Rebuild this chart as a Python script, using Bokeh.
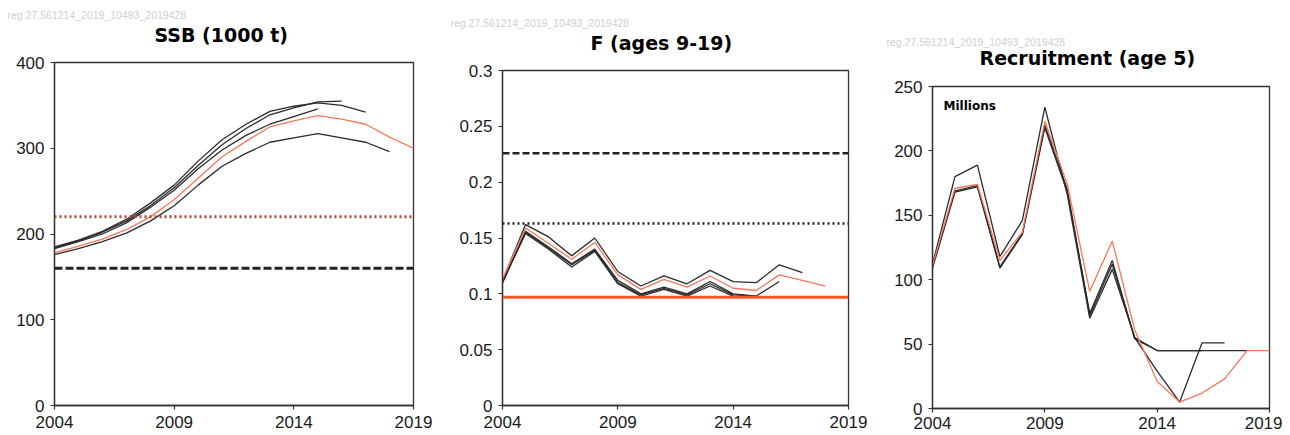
from bokeh.plotting import figure
from bokeh.layouts import row, column
from bokeh.models import FixedTicker, Title, Label, Span, Range1d
from bokeh.embed import file_html
from bokeh.resources import INLINE

# ---------------- data ----------------
YEARS = list(range(2004, 2020))
X_FIRST, X_LAST = 2004, 2019
X_TICKS = [2004, 2009, 2014, 2019]
WATERMARK = "reg.27.561214_2019_10493_2019428"

# SSB (1000 t)
ssb_latest = [178, 186, 194, 205, 220, 240, 265, 290, 308, 325, 332, 338, 334, 328, 313, 300]
ssb_retro_2018 = [176, 183, 191, 201, 215, 233, 257, 279, 294, 307, 312, 317, 312, 307, 296]
ssb_retro_2017 = [185, 193, 203, 217, 236, 257, 285, 310, 328, 343, 349, 353, 350, 342]
ssb_retro_2016 = [184, 192, 202, 215, 233, 254, 280, 304, 323, 339, 347, 354, 355]
ssb_retro_2015 = [183, 191, 200, 213, 231, 251, 276, 298, 315, 328, 337, 346]
ssb_mgt_trigger = 220
ssb_blim = 160
ssb_ticks = [0, 100, 200, 300, 400]

# F (ages 9-19)
f_latest = [0.113, 0.159, 0.145, 0.131, 0.146, 0.117, 0.104, 0.113, 0.106, 0.116, 0.105, 0.103, 0.117, 0.112, 0.107]
f_retro_2017 = [0.112, 0.162, 0.151, 0.134, 0.150, 0.120, 0.107, 0.116, 0.109, 0.121, 0.111, 0.110, 0.126, 0.119]
f_retro_2016 = [0.110, 0.156, 0.142, 0.127, 0.140, 0.112, 0.100, 0.106, 0.100, 0.111, 0.100, 0.098, 0.111]
f_retro_2015 = [0.110, 0.155, 0.141, 0.126, 0.139, 0.110, 0.099, 0.105, 0.099, 0.109, 0.099, 0.098]
f_retro_2014 = [0.111, 0.154, 0.140, 0.124, 0.138, 0.109, 0.098, 0.104, 0.098, 0.107, 0.098]
f_lim = 0.226
f_pa = 0.163
f_msy = 0.097
f_ticks = [0, 0.05, 0.1, 0.15, 0.2, 0.25, 0.3]
f_tick_labels = ["0", "0.05", "0.1", "0.15", "0.2", "0.25", "0.3"]

# Recruitment (age 5), millions
rec_latest = [111, 171, 174, 115, 137, 223, 174, 91, 130, 61, 21, 5, 12, 23, 45, 45]
rec_retro_2018 = [109, 168, 172, 109, 135, 218, 168, 74, 115, 54, 45, 45, 45, 45, 45]
rec_retro_2017 = [112, 180, 189, 118, 146, 234, 166, 70, 108, 55, 29, 5, 51, 51]
rec_retro_2016 = [110, 169, 173, 110, 136, 220, 170, 72, 112, 55, 45, 45, 45]
rec_ticks = [0, 50, 100, 150, 200, 250]

# ---------------- style ----------------
BLACK = "#2b2b2b"
ORANGE = "#f4785a"
ORANGE_REF = "#f05a28"
FRAME = "#333333"
TICK_FONT = "Liberation Sans"
TITLE_FONT = "DejaVu Sans"
HEIGHT = 435


def make_fig(width, bl, br, bt, bb, yticks, title, t_off, t_stand, wm_off, wm_stand):
    p = figure(width=width, height=HEIGHT, x_range=Range1d(X_FIRST, X_LAST),
               y_range=Range1d(0, yticks[-1]), output_backend="svg", title=None,
               toolbar_location=None, min_border_left=bl, min_border_right=br,
               min_border_top=bt, min_border_bottom=bb)
    p.add_layout(Title(text=title, align="left", offset=t_off, standoff=t_stand,
                       text_font=TITLE_FONT, text_font_size="19px",
                       text_font_style="bold", text_color="#000000"), "above")
    p.add_layout(Title(text=WATERMARK, align="left", offset=wm_off, standoff=wm_stand,
                       text_font=TICK_FONT, text_font_size="10.5px",
                       text_font_style="normal", text_color="#cfcfcf"), "above")
    p.xgrid.visible = False
    p.ygrid.visible = False
    p.background_fill_color = "white"
    p.border_fill_color = "white"
    p.outline_line_color = FRAME
    p.outline_line_width = 1.3
    for ax in (p.xaxis[0], p.yaxis[0]):
        ax.axis_line_color = FRAME
        ax.axis_line_width = 1.3
        ax.major_tick_line_color = FRAME
        ax.major_tick_line_width = 1.2
        ax.major_tick_out = 4
        ax.major_tick_in = 0
        ax.minor_tick_out = 0
        ax.minor_tick_in = 0
        ax.major_label_text_font = TICK_FONT
        ax.major_label_text_font_size = "17px"
        ax.major_label_text_color = "#1a1a1a"
        ax.major_label_standoff = 6
    p.xaxis.ticker = FixedTicker(ticks=X_TICKS)
    p.yaxis.ticker = FixedTicker(ticks=yticks)
    return p


def xs(series):
    return YEARS[:len(series)]


# ---- SSB ----
p1 = make_fig(440, 54, 27, 62, 30, ssb_ticks, "SSB (1000 t)", 100, 33, -47, -30)
p1.add_layout(Span(location=ssb_blim, dimension="width", line_color="#222222",
                   line_width=3, line_dash="8 3"))
p1.add_layout(Span(location=ssb_mgt_trigger, dimension="width", line_color="#b04a30",
                   line_width=3, line_dash="2 3"))
for s in (ssb_retro_2018, ssb_retro_2017, ssb_retro_2016, ssb_retro_2015):
    p1.line(xs(s), s, line_color=BLACK, line_width=1.3)
p1.line(xs(ssb_latest), ssb_latest, line_color=ORANGE, line_width=1.3)

# ---- F ----
p2 = make_fig(430, 62, 22, 70, 30, f_ticks, "F (ages 9-19)", 88, 33, -52, -30)
p2.yaxis.major_label_overrides = {t: l for t, l in zip(f_ticks, f_tick_labels)}
p2.add_layout(Span(location=f_lim, dimension="width", line_color="#222222",
                   line_width=2.5, line_dash="7 3"))
p2.add_layout(Span(location=f_pa, dimension="width", line_color="#222222",
                   line_width=2.5, line_dash="2 3"))
p2.add_layout(Span(location=f_msy, dimension="width", line_color=ORANGE_REF,
                   line_width=3))
for s in (f_retro_2017, f_retro_2016, f_retro_2015, f_retro_2014):
    p2.line(xs(s), s, line_color=BLACK, line_width=1.3)
p2.line(xs(f_latest), f_latest, line_color=ORANGE, line_width=1.3)

# ---- Recruitment ----
p3 = make_fig(412, 62, 13, 86, 27, rec_ticks, "Recruitment (age 5)", 47, 35, -46, -40)
p3.xaxis.major_label_standoff = 4
for s in (rec_retro_2018, rec_retro_2017, rec_retro_2016):
    p3.line(xs(s), s, line_color=BLACK, line_width=1.3)
p3.line(xs(rec_latest), rec_latest, line_color=ORANGE, line_width=1.3)
p3.add_layout(Label(x=11, y=303, x_units="screen", y_units="screen", text="Millions",
                    text_font=TITLE_FONT, text_font_size="12px", text_font_style="bold",
                    text_baseline="middle", text_color="#000000"))

layout = row(column(p1), column(p2), column(p3))
open("out.html", "w").write(file_html(layout, INLINE))
